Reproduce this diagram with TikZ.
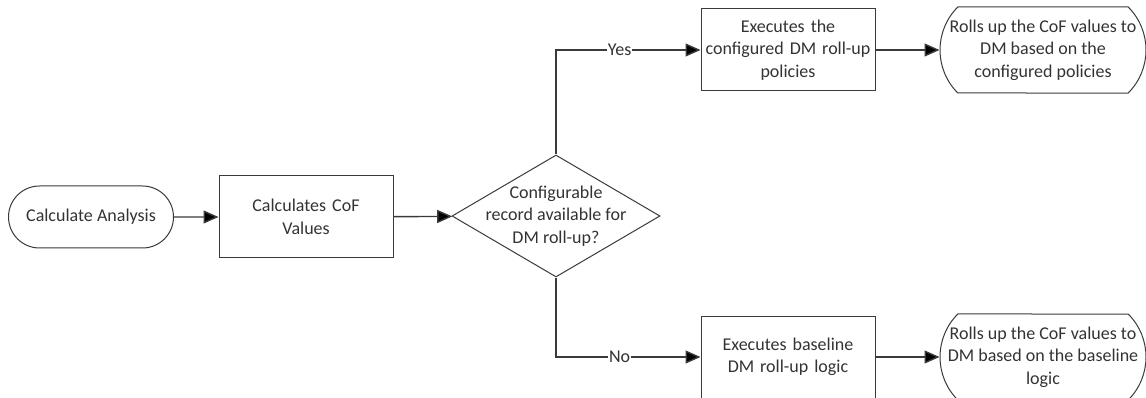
\documentclass[tikz,border=0pt]{standalone}
\usepackage{fontspec}
\setmainfont{Carlito}
\usepackage{xcolor}
\usepackage{tikz}
\usetikzlibrary{
  arrows.meta,
  positioning,
  shapes.geometric,
  shapes.misc
}
\definecolor{FlowLine}{HTML}{3A3A3A}
\definecolor{FlowText}{HTML}{333333}

\begin{document}
\begin{tikzpicture}[x=1pt,y=-1pt,
    font=\fontsize{18}{22.5}\selectfont,text=FlowText,
    term/.style={draw=FlowLine,line width=1pt,rounded rectangle,inner sep=0pt},
    procbox/.style={draw=FlowLine,line width=1pt,rectangle,minimum width=174pt,
                    minimum height=82pt,text width=174pt,align=center,inner sep=0pt},
    decide/.style={draw=FlowLine,line width=1pt,diamond,inner sep=0pt,
                   minimum width=208pt,minimum height=122pt},
    lbl/.style={align=center,inner sep=0pt,text=FlowText},
    flow/.style={draw=FlowLine,line width=1.4pt,
                 -{Triangle[length=15pt,width=13pt,fill=black]}},
    branch/.style={fill=white,inner sep=1pt}
  ]
  \useasboundingbox (0,0) rectangle (1146,398);

  \node[term,minimum width=165pt,minimum height=62pt] (start) at (91,217) {Calculate Analysis};
  \node[procbox] (calc) at (306,217) {Calculates CoF\\Values};
  \node[decide,label={[lbl]center:Configurable\\record available for\\DM roll-up?}] (check) at (556,216) {};

  \node[procbox] (cfgexec) at (788,50) {Executes the\\configured DM roll-up\\policies};
  \node[term,rounded rectangle arc length=90,minimum width=206pt,minimum height=86pt,
        label={[lbl]center:Rolls up the CoF values to\\DM based on the\\configured policies}] (cfgroll) at (1043,50) {};

  \node[procbox] (baseexec) at (788,357) {Executes baseline\\DM roll-up logic};
  \node[term,rounded rectangle arc length=90,minimum width=206pt,minimum height=86pt,
        label={[lbl]center:Rolls up the CoF values to\\DM based on the baseline\\logic}] (baseroll) at (1043,357) {};

  \draw[flow] (start) -- (calc);
  \draw[flow] (calc) -- (check);
  \draw[flow] (check.north) |- node[branch,pos=0.72] {Yes} (cfgexec);
  \draw[flow] (check.south) |- node[branch,pos=0.72] {No} (baseexec);
  \draw[flow] (cfgexec) -- (cfgroll);
  \draw[flow] (baseexec) -- (baseroll);
\end{tikzpicture}
\end{document}
